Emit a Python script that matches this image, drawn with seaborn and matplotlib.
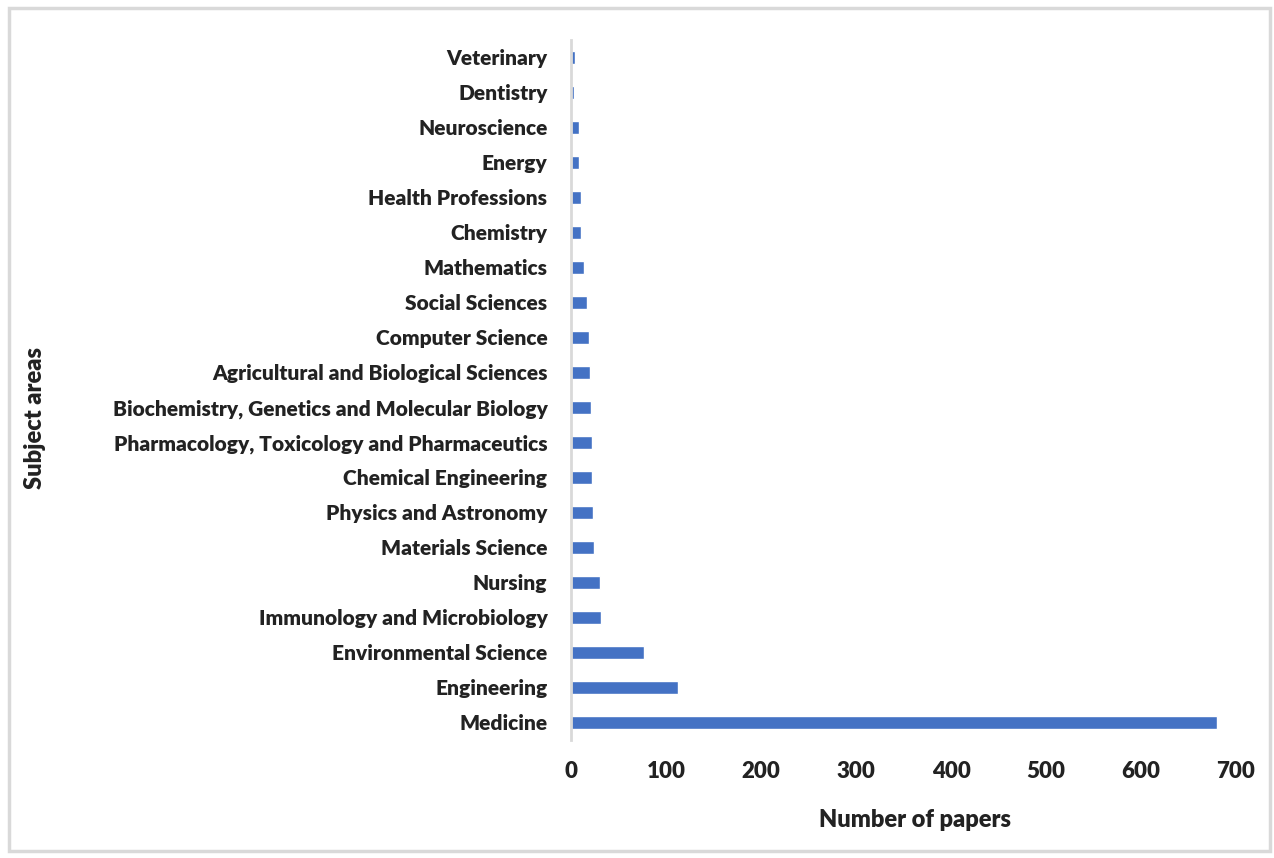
import pandas as pd
import matplotlib.pyplot as plt
import seaborn as sns
from matplotlib.patches import Rectangle

# Subject areas, top to bottom as in the chart
subjects = [
    "Veterinary", "Dentistry", "Neuroscience", "Energy", "Health Professions",
    "Chemistry", "Mathematics", "Social Sciences", "Computer Science",
    "Agricultural and Biological Sciences",
    "Biochemistry, Genetics and Molecular Biology",
    "Pharmacology, Toxicology and Pharmaceutics",
    "Chemical Engineering", "Physics and Astronomy", "Materials Science",
    "Nursing", "Immunology and Microbiology", "Environmental Science",
    "Engineering", "Medicine",
]
papers = [4, 3, 8, 8, 10, 11, 14, 17, 19, 20, 21, 22, 22, 23, 24, 31, 32, 77, 113, 680]
x_ticks = [0, 100, 200, 300, 400, 500, 600, 700]

df = pd.DataFrame({"subject": subjects, "papers": papers})

sns.set_style("white")
plt.rcParams["font.family"] = ["Lato", "DejaVu Sans"]
TXT = "#222222"
W = "heavy"

fig = plt.figure(figsize=(12.74, 8.58), dpi=100)
ax = fig.add_axes([571 / 1274, 1 - 740 / 858, (1236 - 571) / 1274, (740 - 40) / 858])

sns.barplot(data=df, x="papers", y="subject", orient="h", color="#4472C4",
            saturation=1, width=0.36, ax=ax)

ax.set_xlim(0, 700)
ax.set_xticks(x_ticks)
ax.set_xticklabels([str(t) for t in x_ticks], fontsize=16, fontweight=W, color=TXT)
ax.tick_params(axis="x", length=0, pad=15)
ax.tick_params(axis="y", length=0, pad=17)
for lbl in ax.get_yticklabels():
    lbl.set_fontsize(15)
    lbl.set_fontweight(W)
    lbl.set_color(TXT)

ax.set_xlabel("")
ax.set_ylabel("")
fig.text(915 / 1274, 1 - 820 / 858, "Number of papers", ha="center", va="center",
         fontsize=17, fontweight=W, color=TXT)
fig.text(35 / 1274, 1 - 418 / 858, "Subject areas", rotation=90, ha="center", va="center",
         fontsize=17, fontweight=W, color=TXT)

for side in ["top", "right", "bottom"]:
    ax.spines[side].set_visible(False)
ax.spines["left"].set_color("#d9d9d9")
ax.spines["left"].set_linewidth(2)

# light grey frame around the chart area
fig.patches.append(Rectangle((9 / 1274, 1 - 851 / 858), 1261 / 1274, 843 / 858,
                             transform=fig.transFigure, fill=False,
                             edgecolor="#d9d9d9", linewidth=2.5))

fig.savefig("out.png", dpi=100)
